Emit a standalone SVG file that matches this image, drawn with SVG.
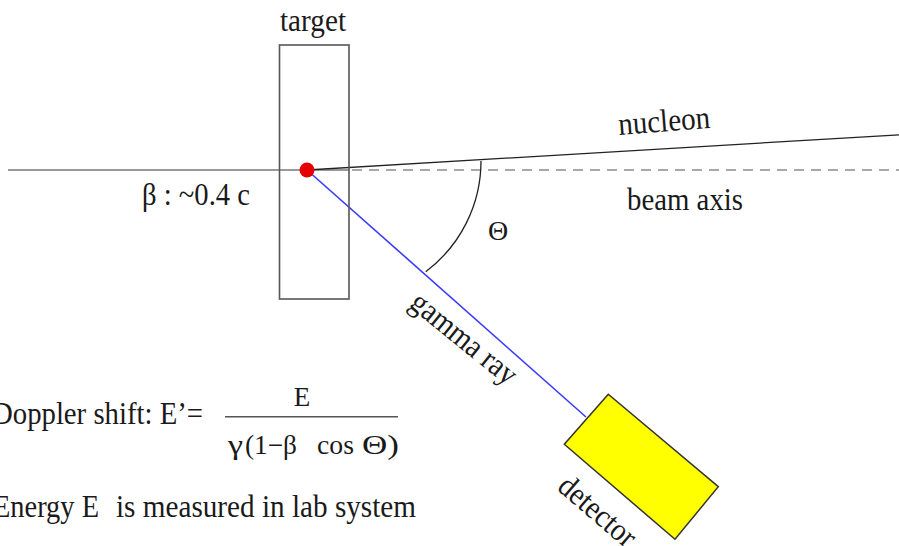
<svg xmlns="http://www.w3.org/2000/svg" width="899" height="546" viewBox="0 0 899 546">
<style>
text{font-family:"Liberation Serif",serif;fill:#1a1a1a;font-size:32px}
.f{font-size:27px}
.beam{stroke:#9a9a9a;stroke-width:2;fill:none}
.dash{stroke:#a8a8a8;stroke-width:2;stroke-dasharray:10 7;fill:none}
</style>
<rect width="899" height="546" fill="#fff"/>
<g id="connectors">
<line class="beam" x1="8" y1="170" x2="349" y2="170"/>
<line class="dash" x1="352" y1="170" x2="899" y2="170"/>
<line x1="307" y1="170" x2="899" y2="134.8" stroke="#222" stroke-width="1.3"/>
<line x1="307" y1="170" x2="586" y2="417" stroke="#3a3aff" stroke-width="1.6"/>
<path d="M481 161 A138.4 138.4 0 0 1 425.7 271.7" fill="none" stroke="#222" stroke-width="1.3"/>
</g>
<g id="target">
<rect x="279.5" y="45" width="69.5" height="254" fill="none" stroke="#555" stroke-width="1.6"/>
<text x="280" y="31" textLength="66" lengthAdjust="spacingAndGlyphs">target</text>
</g>
<g id="source">
<circle cx="307" cy="170" r="7.5" fill="#e60000"/>
</g>
<g id="detector">
<polygon points="608.3,394.3 564.3,444.3 675,539.3 718.3,486.7" fill="#ffff00" stroke="#333" stroke-width="1.5"/>
<text transform="translate(556,489) rotate(40.6)" textLength="92" lengthAdjust="spacingAndGlyphs">detector</text>
</g>
<g id="labels">
<text x="619" y="135" transform="rotate(-4.5 619 135)" textLength="92" lengthAdjust="spacingAndGlyphs">nucleon</text>
<text x="627" y="210" textLength="116" lengthAdjust="spacingAndGlyphs">beam axis</text>
<text x="142" y="205" textLength="108" lengthAdjust="spacingAndGlyphs">β : ~0.4 c</text>
<text x="498" y="240" text-anchor="middle" style="font-size:28px">Θ</text>
<text transform="translate(408,306) rotate(39)" textLength="128" lengthAdjust="spacingAndGlyphs">gamma ray</text>
</g>
<g id="formula">
<text x="-8" y="423.5" textLength="211" lengthAdjust="spacingAndGlyphs">Doppler shift: E’=</text>
<text class="f" x="302" y="405.5" text-anchor="middle">E</text>
<line x1="225" y1="416.7" x2="398" y2="416.7" stroke="#555" stroke-width="1.5"/>
<text class="f" x="228" y="453.5" textLength="15" lengthAdjust="spacingAndGlyphs">γ</text>
<text class="f" x="245" y="453.5" textLength="52" lengthAdjust="spacingAndGlyphs">(1−β</text>
<text class="f" x="317" y="453.5" textLength="37" lengthAdjust="spacingAndGlyphs">cos</text>
<text class="f" x="362" y="453.5" textLength="37" lengthAdjust="spacingAndGlyphs">Θ)</text>
<text x="-7" y="516.7" textLength="106" lengthAdjust="spacingAndGlyphs">Energy E</text>
<text x="116" y="516.7" textLength="300" lengthAdjust="spacingAndGlyphs">is measured in lab system</text>
</g>
</svg>
